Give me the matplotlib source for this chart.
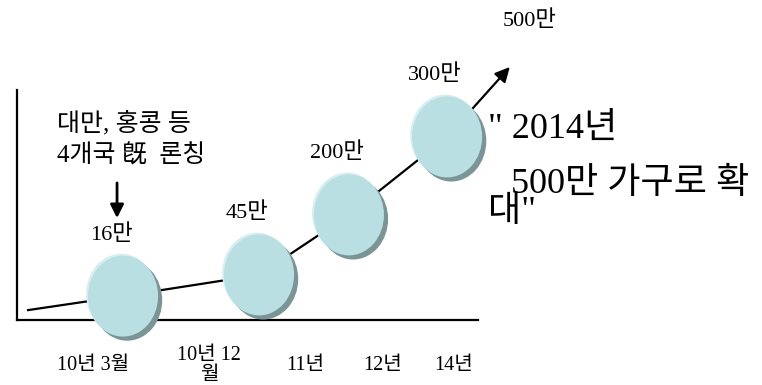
import matplotlib
matplotlib.use("Agg")
import matplotlib.pyplot as plt
from matplotlib.patches import Ellipse

plt.rcParams["font.family"] = ["Liberation Serif", "Noto Sans CJK KR", "DejaVu Sans"]

# 서비스 가입 가구 추이 (단위: 만 가구)
periods = ["10년 3월", "10년 12\n월", "11년", "12년", "14년"]
households = [16, 45, 200, 300, 500]
launch_note = "대만, 홍콩 등\n4개국 旣  론칭"
target_lines = ['" 2014년', "500만 가구로 확", '대"']

# 추세선 위 단계 위치 (도식용 축 단위 0~100)
stage_x = [23.0, 52.5, 72.0, 93.3]
stage_y = [10.4, 19.6, 45.7, 79.6]
line_start = (2.4, 4.3)
arrow_tip = (106.9, 110.0)
period_x = [16.5, 41.7, 62.5, 79.2, 94.6]

fill_color = "#b9dfe3"
rim_color = "#d6eef0"
shadow_color = "#7b9597"

fig = plt.figure(figsize=(7.62, 3.85), dpi=100)
ax = fig.add_axes([17 / 762, 65 / 385, 461 / 762, 230 / 385])
ax.set_xlim(0, 100)
ax.set_ylim(0, 100)

for side in ["top", "right"]:
    ax.spines[side].set_visible(False)
for side in ["left", "bottom"]:
    ax.spines[side].set_linewidth(1.6)
ax.set_yticks([])
ax.set_xticks(period_x, periods, fontsize=14.5)
ax.tick_params(axis="x", length=0, pad=33)
for lbl in ax.get_xticklabels():
    lbl.set_va("center")
    lbl.set_linespacing(1.05)

# 추세선
xs = [line_start[0]] + stage_x
ys = [line_start[1]] + stage_y
ax.plot(xs, ys, color="black", lw=1.6, zorder=2, clip_on=False)
ax.annotate("", xy=arrow_tip, xytext=(stage_x[-1], stage_y[-1]),
            arrowprops=dict(arrowstyle="-|>", color="black", lw=1.6,
                            mutation_scale=22, shrinkA=0, shrinkB=0),
            annotation_clip=False, zorder=2)

# 단계별 원 (그림자 + 테두리 하이라이트)
w, h = 15.2, 35.2
dx, dy = 0.9, -1.8
for cx, cy, val in zip(stage_x, stage_y, households[:-1]):
    ax.add_patch(Ellipse((cx + dx, cy + dy), w, h, facecolor=shadow_color,
                         edgecolor="none", zorder=3, clip_on=False))
    ax.add_patch(Ellipse((cx - 0.4, cy + 0.8), w, h, facecolor=rim_color,
                         edgecolor="none", zorder=4, clip_on=False))
    ax.add_patch(Ellipse((cx, cy), w, h, facecolor=fill_color,
                         edgecolor="none", zorder=5, clip_on=False))
    ax.annotate(f"{val}만", xy=(cx, cy + h / 2), xytext=(-12, 11),
                textcoords="offset pixels", ha="center", va="bottom",
                fontsize=16, annotation_clip=False)

ax.annotate(f"{households[-1]}만", xy=arrow_tip, xytext=(20, 36),
            textcoords="offset pixels", ha="center", va="bottom",
            fontsize=16, annotation_clip=False)

# 론칭 설명과 화살표
ax.text(8.7, 78.3, launch_note, fontsize=18, ha="left", va="center",
        linespacing=1.45)
ax.annotate("", xy=(21.7, 44.3), xytext=(21.7, 59.6),
            arrowprops=dict(arrowstyle="-|>", color="black", lw=2,
                            mutation_scale=20, shrinkA=0, shrinkB=0),
            annotation_clip=False)

# 2014년 목표
fig.text(488 / 762, 1 - 129 / 385, target_lines[0], fontsize=26, va="center")
fig.text(511 / 762, 1 - 184 / 385, target_lines[1], fontsize=26, va="center")
fig.text(488 / 762, 1 - 213 / 385, target_lines[2], fontsize=26, va="center")

fig.savefig("out.png", dpi=100)
